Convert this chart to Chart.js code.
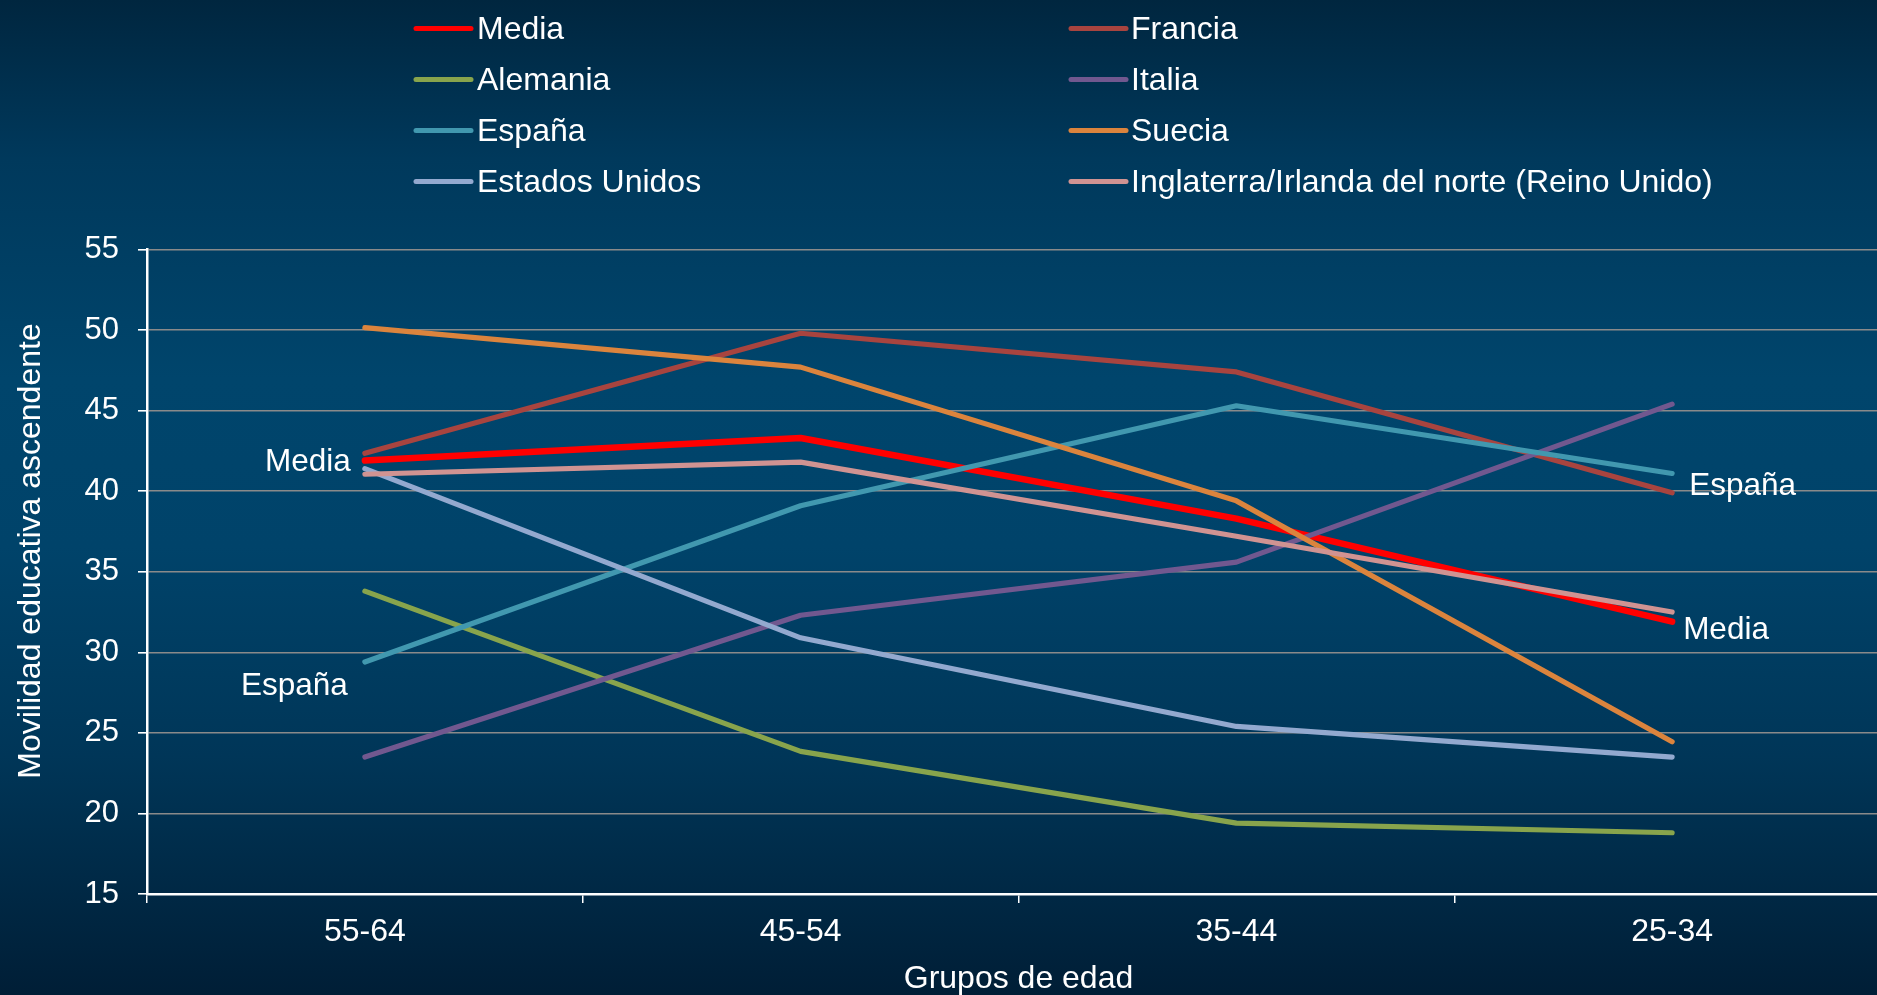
<!DOCTYPE html>
<html>
<head>
<meta charset="utf-8">
<script src="https://cdn.jsdelivr.net/npm/chart.js@4.4.1/dist/chart.umd.min.js"></script>
<style>
html,body{margin:0;padding:0;overflow:hidden;width:1877px;height:995px;}
body{background:linear-gradient(to bottom,#00263f 0%,#00395c 16%,#00456c 38%,#00436a 55%,#003658 76%,#001e36 100%);}
#wrap{position:absolute;left:0;top:0;width:1892px;height:995px;}
canvas{display:block;}
</style>
</head>
<body>
<div id="wrap"><canvas id="c" width="1892" height="995"></canvas></div>
<script>
// ---- data ----
const categories = ['55-64', '45-54', '35-44', '25-34'];
const seriesNames = ['Media', 'Francia', 'Alemania', 'Italia', 'España', 'Suecia', 'Estados Unidos', 'Inglaterra/Irlanda del norte (Reino Unido)'];
const media      = [41.9, 43.3, 38.3, 31.9];
const francia    = [42.35, 49.8, 47.4, 39.9];
const alemania   = [33.8, 23.85, 19.4, 18.8];
const italia     = [23.5, 32.3, 35.6, 45.4];
const espana     = [29.4, 39.1, 45.3, 41.1];
const suecia     = [50.15, 47.7, 39.4, 24.45];
const eeuu       = [41.4, 30.9, 25.4, 23.5];
const reinoUnido = [41.05, 41.8, 37.2, 32.5];
const yMin = 15, yMax = 55, yStep = 5;
const xTitle = 'Grupos de edad';
const yTitle = 'Movilidad educativa ascendente';
const inlineLabels = [
  {text: 'Media', series: 0, point: 0},
  {text: 'España', series: 4, point: 0},
  {text: 'España', series: 4, point: 3},
  {text: 'Media', series: 0, point: 3}
];

// ---- styles ----
const colors = ['#FF0000', '#A8443F', '#88A44C', '#71588F', '#4198AF', '#DB843D', '#93A9CF', '#D09392'];
const widths = [6.5, 5.2, 5.2, 5.2, 5.2, 5.2, 5.2, 5.2];
const FONT = '"Liberation Sans", Arial, Helvetica, sans-serif';
const labelOffsets = [
  {dx: -14, dy: 10, align: 'right'},
  {dx: -17, dy: 33, align: 'right'},
  {dx: 17, dy: 22, align: 'left'},
  {dx: 11, dy: 17, align: 'left'}
];

const allSeries = [media, francia, alemania, italia, espana, suecia, eeuu, reinoUnido];
const datasets = allSeries.map((d, i) => ({
  label: seriesNames[i],
  data: d,
  borderColor: colors[i],
  backgroundColor: colors[i],
  borderWidth: widths[i],
  pointRadius: 0,
  pointHoverRadius: 0,
  tension: 0,
  borderCapStyle: 'round',
  borderJoinStyle: 'round',
  fill: false,
  order: allSeries.length - i
}));

const decor = {
  id: 'decor',
  afterDatasetsDraw(chart) {
    const ctx = chart.ctx;
    ctx.save();
    ctx.fillStyle = '#FFFFFF';
    ctx.font = '31.5px ' + FONT;
    ctx.textBaseline = 'alphabetic';
    inlineLabels.forEach((l, k) => {
      const el = chart.getDatasetMeta(l.series).data[l.point];
      const o = labelOffsets[k];
      ctx.textAlign = o.align;
      ctx.fillText(l.text, el.x + o.dx, el.y + o.dy);
    });
    ctx.restore();
  },
  afterDraw(chart) {
    const ctx = chart.ctx;
    const area = chart.chartArea;
    ctx.save();
    ctx.fillStyle = '#FFFFFF';
    ctx.font = '32px ' + FONT;
    ctx.textBaseline = 'alphabetic';
    // legend (2 columns, row-major)
    const colLine = [416, 1071];
    const colText = [477, 1131];
    chart.data.datasets.forEach((ds, i) => {
      const col = i % 2, row = Math.floor(i / 2);
      const yc = 28.5 + row * 51;
      ctx.strokeStyle = ds.borderColor;
      ctx.lineWidth = 5;
      ctx.lineCap = 'round';
      ctx.beginPath();
      ctx.moveTo(colLine[col], yc);
      ctx.lineTo(colLine[col] + 55, yc);
      ctx.stroke();
      ctx.textAlign = 'left';
      ctx.fillText(ds.label, colText[col], yc + 10.5);
    });
    // axis titles
    ctx.textAlign = 'center';
    ctx.fillText(xTitle, (area.left + area.right) / 2, 988);
    ctx.translate(40, 551);
    ctx.rotate(-Math.PI / 2);
    ctx.fillText(yTitle, 0, 0);
    ctx.restore();
  }
};

new Chart(document.getElementById('c'), {
  type: 'line',
  data: {labels: categories, datasets: datasets},
  options: {
    responsive: false,
    animation: false,
    devicePixelRatio: 1,
    layout: {padding: {left: 0, right: 2, top: 249.5, bottom: 0}},
    plugins: {legend: {display: false}, tooltip: {enabled: false}},
    scales: {
      x: {
        type: 'category',
        offset: true,
        afterFit(s) { s.height = 101; },
        grid: {offset: true, drawOnChartArea: false, drawTicks: true, tickLength: 9, tickColor: '#FFFFFF', lineWidth: 1.5},
        border: {display: true, color: '#FFFFFF', width: 2.5},
        ticks: {color: '#FFFFFF', font: {size: 32, family: FONT}, padding: 10, maxRotation: 0}
      },
      y: {
        min: yMin, max: yMax,
        afterFit(s) { s.width = 147; },
        grid: {color: '#8a8a8a', lineWidth: 1.6, drawTicks: true, tickLength: 9, tickColor: '#FFFFFF'},
        border: {display: true, color: '#FFFFFF', width: 2.5},
        ticks: {stepSize: yStep, color: '#FFFFFF', font: {size: 31, family: FONT}, padding: 19}
      }
    }
  },
  plugins: [decor]
});
</script>
</body>
</html>
